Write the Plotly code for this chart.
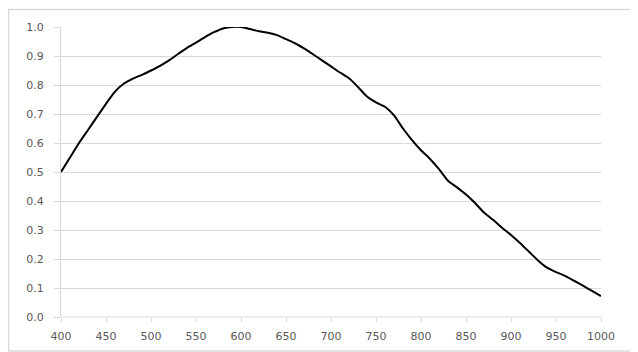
import plotly.graph_objects as go

wavelength = [400, 410, 420, 430, 440, 450, 460, 470, 480, 490,
              500, 510, 520, 530, 540, 550, 560, 570, 580, 590,
              600, 610, 620, 630, 640, 650, 660, 670, 680, 690,
              700, 710, 720, 730, 740, 750, 760, 770, 780, 790,
              800, 810, 820, 830, 840, 850, 860, 870, 880, 890,
              900, 910, 920, 930, 940, 950, 960, 970, 980, 990, 1000]
response = [0.50, 0.55, 0.60, 0.645, 0.69, 0.735, 0.777, 0.805, 0.822, 0.835,
            0.85, 0.866, 0.885, 0.907, 0.928, 0.946, 0.965, 0.982, 0.995, 1.0,
            1.0, 0.993, 0.985, 0.98, 0.972, 0.958, 0.944, 0.926, 0.906, 0.885,
            0.864, 0.843, 0.823, 0.793, 0.76, 0.74, 0.725, 0.695, 0.65, 0.61,
            0.575, 0.545, 0.51, 0.47, 0.447, 0.422, 0.393, 0.36, 0.335, 0.308,
            0.283, 0.255, 0.225, 0.195, 0.17, 0.155, 0.142, 0.125, 0.108, 0.09, 0.072]

x_ticks = list(range(400, 1001, 50))
y_ticks = [round(i * 0.1, 1) for i in range(11)]
y_tick_labels = [f"{v:.1f}" for v in y_ticks]

grid = "#d9d9d9"
font_col = "#595959"
tick_font = dict(family="DejaVu Sans, Verdana, sans-serif", size=11, color=font_col)

fig = go.Figure()
fig.add_trace(go.Scatter(
    x=wavelength, y=response, mode="lines",
    line=dict(color="black", width=2, shape="spline", smoothing=0.6),
    showlegend=False, hoverinfo="skip"))

# page has an 8px body margin; plot area sits at page x 61..601, y 27..317
fig.update_layout(
    width=630, height=344,
    margin=dict(l=53, r=37, t=19, b=35, autoexpand=False),
    paper_bgcolor="white", plot_bgcolor="white",
    font=tick_font,
    xaxis=dict(range=[400, 1000], tickvals=x_ticks, ticktext=[str(v) for v in x_ticks],
               showgrid=False, zeroline=False, showline=False,
               ticks="outside", ticklen=4, tickcolor=grid, tickwidth=1,
               ticklabelstandoff=5, automargin=False,
               tickfont=tick_font, fixedrange=True),
    yaxis=dict(range=[0, 1.0], tickvals=y_ticks, ticktext=y_tick_labels,
               showgrid=True, gridcolor=grid, gridwidth=1, zeroline=False,
               showline=True, linecolor=grid, linewidth=1,
               ticks="outside", ticklen=6, tickcolor=grid, tickwidth=1,
               ticklabelstandoff=8, automargin=False,
               tickfont=tick_font, fixedrange=True),
    shapes=[
        dict(type="line", xref="paper", yref="paper", x0=0, x1=1, y0=0, y1=0,
             line=dict(color=grid, width=1), layer="below"),
        dict(type="rect", xref="paper", yref="paper",
             x0=(8.5 - 61) / 540, x1=(636 - 61) / 540,
             y0=(317 - 351) / 290, y1=(317 - 9.5) / 290,
             line=dict(color=grid, width=1.5), fillcolor="rgba(0,0,0,0)", layer="below"),
    ],
)

fig.write_html("out.html")
